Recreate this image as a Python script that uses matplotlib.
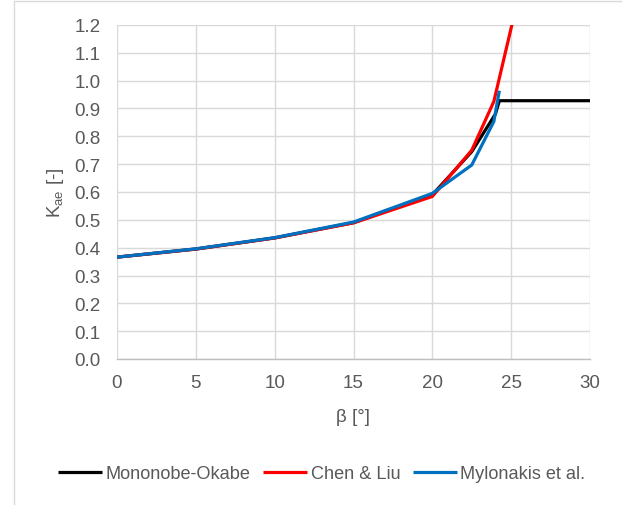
import matplotlib
matplotlib.use("Agg")
import matplotlib.pyplot as plt
from matplotlib.patches import Rectangle
from matplotlib.ticker import FormatStrFormatter

# Data
beta_mo = [0, 5, 10, 15, 20, 22.5, 24, 24.25, 25, 30]
k_mo = [0.366, 0.395, 0.435, 0.490, 0.590, 0.745, 0.880, 0.928, 0.928, 0.928]

beta_cl = [0, 5, 10, 15, 20, 22.5, 23.9, 26]
k_cl = [0.366, 0.395, 0.435, 0.489, 0.584, 0.750, 0.925, 1.43]

beta_my = [0, 5, 10, 15, 20, 22.5, 23.9, 24.25]
k_my = [0.366, 0.396, 0.436, 0.492, 0.595, 0.697, 0.853, 0.964]

series_names = ["Mononobe-Okabe", "Chen & Liu", "Mylonakis et al."]
series_colors = ["#000000", "#ff0000", "#0070c0"]

x_ticks = [0, 5, 10, 15, 20, 25, 30]
y_ticks = [0.0, 0.1, 0.2, 0.3, 0.4, 0.5, 0.6, 0.7, 0.8, 0.9, 1.0, 1.1, 1.2]

W, H = 622, 506
FONT = "Liberation Sans"
FS = 13.5
TXT = "#595959"

fig = plt.figure(figsize=(W / 100, H / 100), dpi=100)
fig.patch.set_facecolor("white")

# outer chart frame (only left/top edges visible in reference)
fig.patches.append(Rectangle((13.5 / W, -0.1), 1.2, 1.1 - 1.5 / H,
                             transform=fig.transFigure, fill=False,
                             edgecolor="#d9d9d9", linewidth=1.0))

left, right, top, bottom = 117, 590, 26, 360
ax = fig.add_axes([left / W, 1 - bottom / H, (right - left) / W, (bottom - top) / H])

for xs, ys, name, col in zip([beta_mo, beta_cl, beta_my], [k_mo, k_cl, k_my],
                             series_names, series_colors):
    ax.plot(xs, ys, color=col, linewidth=2.3, label=name, solid_joinstyle="miter",
            solid_capstyle="butt")

ax.set_xlim(0, 30)
ax.set_ylim(0, 1.2)
ax.set_xticks(x_ticks)
ax.set_yticks(y_ticks)
ax.yaxis.set_major_formatter(FormatStrFormatter("%.1f"))
ax.grid(True, color="#d9d9d9", linewidth=1.0)
ax.set_axisbelow(True)
for s in ["top", "right", "left"]:
    ax.spines[s].set_visible(False)
ax.spines["bottom"].set_color("#bfbfbf")
ax.spines["bottom"].set_linewidth(1.0)
ax.tick_params(length=0, labelcolor=TXT, labelsize=FS)
ax.tick_params(axis="y", pad=12)
ax.tick_params(axis="x", pad=11)
for lab in ax.get_xticklabels() + ax.get_yticklabels():
    lab.set_fontfamily(FONT)

ax.set_xlabel("β [°]", fontsize=FS, color=TXT, family=FONT, va="center")
ax.xaxis.set_label_coords(0.5, (bottom - 417) / (bottom - top))
ax.set_ylabel("K$_{\\mathregular{ae}}$ [-]", fontsize=FS, color=TXT, family=FONT,
              va="center", ha="center")
ax.yaxis.set_label_coords((55 - left) / (right - left), 0.5)

leg = fig.legend(loc="center", bbox_to_anchor=(322 / W, 1 - 475 / H), ncol=3,
                 frameon=False, handlelength=2.4, handletextpad=0.2,
                 columnspacing=0.7, prop={"family": FONT, "size": 13.1})
for t in leg.get_texts():
    t.set_color(TXT)

fig.savefig("out.png", dpi=100)
